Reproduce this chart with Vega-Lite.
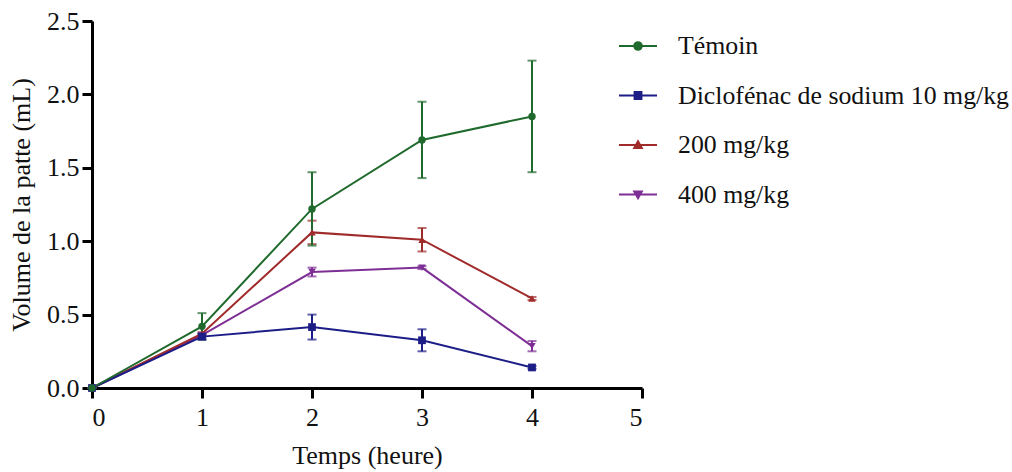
{
  "$schema": "https://vega.github.io/schema/vega-lite/v6.json",
  "autosize": "none",
  "width": 550,
  "height": 367,
  "padding": {"left": 92, "top": 21, "right": 370, "bottom": 84},
  "background": "white",
  "config": {
    "view": {"stroke": null},
    "font": "Liberation Serif",
    "axis": {
      "grid": false,
      "domainColor": "black",
      "domainWidth": 3,
      "tickColor": "black",
      "tickWidth": 3,
      "tickSize": 10,
      "labelFont": "Liberation Serif",
      "labelFontSize": 26,
      "labelColor": "#111",
      "titleFont": "Liberation Serif",
      "titleFontSize": 26,
      "titleFontWeight": "normal",
      "titleColor": "#111"
    }
  },
  "data": {
    "values": [
      {"t": 0, "group": "400 mg/kg", "mean": 0, "sem": 0},
      {"t": 1, "group": "400 mg/kg", "mean": 0.36, "sem": 0.01},
      {"t": 2, "group": "400 mg/kg", "mean": 0.79, "sem": 0.03},
      {"t": 3, "group": "400 mg/kg", "mean": 0.82, "sem": 0.01},
      {"t": 4, "group": "400 mg/kg", "mean": 0.285, "sem": 0.035},
      {"t": 0, "group": "200 mg/kg", "mean": 0, "sem": 0},
      {"t": 1, "group": "200 mg/kg", "mean": 0.37, "sem": 0.01},
      {"t": 2, "group": "200 mg/kg", "mean": 1.06, "sem": 0.08},
      {"t": 3, "group": "200 mg/kg", "mean": 1.01, "sem": 0.08},
      {"t": 4, "group": "200 mg/kg", "mean": 0.61, "sem": 0.01},
      {"t": 0, "group": "Diclofénac de sodium 10 mg/kg", "mean": 0, "sem": 0},
      {"t": 1, "group": "Diclofénac de sodium 10 mg/kg", "mean": 0.35, "sem": 0.02},
      {"t": 2, "group": "Diclofénac de sodium 10 mg/kg", "mean": 0.415, "sem": 0.085},
      {"t": 3, "group": "Diclofénac de sodium 10 mg/kg", "mean": 0.325, "sem": 0.075},
      {"t": 4, "group": "Diclofénac de sodium 10 mg/kg", "mean": 0.14, "sem": 0.01},
      {"t": 0, "group": "Témoin", "mean": 0, "sem": 0},
      {"t": 1, "group": "Témoin", "mean": 0.42, "sem": 0.09},
      {"t": 2, "group": "Témoin", "mean": 1.22, "sem": 0.25},
      {"t": 3, "group": "Témoin", "mean": 1.69, "sem": 0.26},
      {"t": 4, "group": "Témoin", "mean": 1.85, "sem": 0.38}
    ]
  },
  "encoding": {
    "x": {
      "field": "t", "type": "quantitative",
      "scale": {"domain": [0, 5], "nice": false},
      "axis": {"values": [0, 1, 2, 3, 4, 5], "title": "Temps (heure)", "labelPadding": 6, "titlePadding": 12}
    },
    "y": {
      "field": "mean", "type": "quantitative",
      "scale": {"domain": [0, 2.5], "nice": false},
      "axis": {"values": [0, 0.5, 1, 1.5, 2, 2.5], "format": ".1f", "title": "Volume de la patte (mL)", "labelPadding": 3, "titlePadding": 12}
    },
    "color": {
      "field": "group", "type": "nominal",
      "scale": {
        "domain": ["Témoin", "Diclofénac de sodium 10 mg/kg", "200 mg/kg", "400 mg/kg"],
        "range": ["#1f6a2c", "#1d1d88", "#a02b2b", "#7e2f95"]
      },
      "legend": {
        "orient": "none",
        "legendX": 526,
        "legendY": 5,
        "title": null,
        "padding": 0,
        "labelFont": "Liberation Serif",
        "labelFontSize": 25.8,
        "labelColor": "#111",
        "labelLimit": 500,
        "symbolSize": 1444,
        "symbolStrokeWidth": 2,
        "labelOffset": 20,
        "rowPadding": 16.5,
        "encode": {
          "symbols": {
            "update": {
              "shape": {"signal": "datum.value === 'Témoin' ? 'M-1,0H1M0.2,0A0.2,0.2,0,1,1,-0.2,0A0.2,0.2,0,1,1,0.2,0Z' : datum.value === '200 mg/kg' ? 'M-1,0H1M0,-0.2L0.2,0.16L-0.2,0.16Z' : datum.value === '400 mg/kg' ? 'M-1,0H1M0,0.2L0.2,-0.16L-0.2,-0.16Z' : 'M-1,0H1M-0.18,-0.18H0.18V0.18H-0.18Z'"},
              "fill": {"scale": "color", "field": "value"},
              "stroke": {"scale": "color", "field": "value"},
              "opacity": {"value": 1}
            }
          }
        }
      }
    }
  },
  "layer": [
    {
      "mark": {"type": "errorbar", "ticks": {"size": 9, "thickness": 2}, "thickness": 2},
      "encoding": {
        "yError": {"field": "sem"}
      }
    },
    {
      "mark": {"type": "line", "strokeWidth": 2},
      "encoding": {}
    },
    {
      "transform": [{"filter": "datum.group === '400 mg/kg'"}],
      "mark": {"type": "point", "filled": true, "opacity": 1, "size": 55, "shape": "triangle-down"},
      "encoding": {}
    },
    {
      "transform": [{"filter": "datum.group === '200 mg/kg'"}],
      "mark": {"type": "point", "filled": true, "opacity": 1, "size": 55, "shape": "triangle-up"},
      "encoding": {}
    },
    {
      "transform": [{"filter": "datum.group === 'Diclofénac de sodium 10 mg/kg'"}],
      "mark": {"type": "point", "filled": true, "opacity": 1, "size": 60, "shape": "square"},
      "encoding": {}
    },
    {
      "transform": [{"filter": "datum.group === 'Témoin'"}],
      "mark": {"type": "point", "filled": true, "opacity": 1, "size": 55, "shape": "circle"},
      "encoding": {}
    }
  ]
}
